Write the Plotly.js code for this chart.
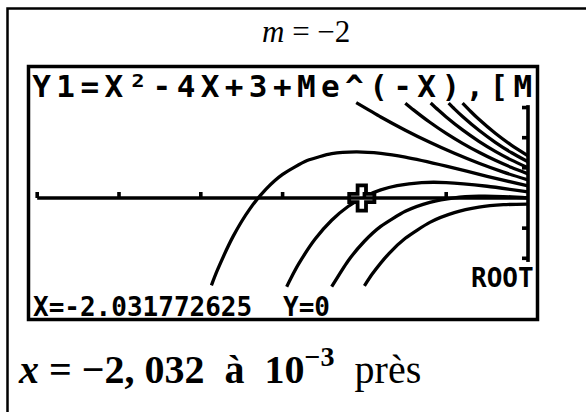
<!DOCTYPE html>
<html>
<head>
<meta charset="utf-8">
<script src="https://cdn.plot.ly/plotly-3.0.1.min.js"></script>
<style>
  html, body { margin: 0; padding: 0; background: #fff; }
  #chart { width: 586px; height: 412px; }
  g.annotation[data-index="1"] text { letter-spacing: 5.4px; }
</style>
</head>
<body>
<div id="chart"></div>
<script>
// ---- Data: Y1 = X^2 - 4X + 3 + M e^(-X), M in {-4..4}
const M_VALUES = [-4, -3, -2, -1, 0, 1, 2, 3, 4];

const xMinus4 = [0, -0.3, -0.6, -0.9, -1.2, -1.5, -1.7, -1.9, -2.0];
const yMinus4 = [-1, -1.11, -1.53, -2.43, -4.04, -6.68, -9.21, -12.53, -14.56];

const xMinus3 = [0, -0.3, -0.6, -0.9, -1.2, -1.5, -1.8, -2.0, -2.2, -2.4];
const yMinus3 = [0, 0.24, 0.29, 0.03, -0.72, -2.20, -4.71, -7.17, -10.44, -14.71];

const xMinus2 = [0, -0.5, -1.0, -1.3, -1.6, -1.8, -2.0, -2.2, -2.4, -2.6, -2.8, -2.9, -2.95];
const yMinus2 = [1, 1.95, 2.56, 2.55, 2.05, 1.34, 0.22, -1.41, -3.69, -6.77, -10.85, -13.34, -14.71];

const xMinus1 = [0, -0.5, -1.0, -1.5, -1.8, -2.1, -2.4, -2.7, -3.0, -3.2, -3.4, -3.6, -3.8, -3.87];
const yMinus1 = [2, 3.60, 5.28, 6.77, 7.39, 7.64, 7.34, 6.21, 3.91, 1.51, -1.80, -6.24, -12.06, -14.48];

const xZero = [0, -0.3, -0.6, -0.9, -1.2, -1.5, -1.8, -2.1];
const yZero = [3, 4.29, 5.76, 7.41, 9.24, 11.25, 13.44, 15.81];

const xPlus1 = [0, -0.2, -0.4, -0.6, -0.8, -1.0, -1.2, -1.4, -1.5];
const yPlus1 = [4, 5.06, 6.25, 7.58, 9.07, 10.72, 12.56, 14.62, 15.73];

const xPlus2 = [0, -0.2, -0.4, -0.6, -0.8, -1.0, -1.1, -1.19];
const yPlus2 = [5, 6.28, 7.74, 9.40, 11.29, 13.44, 14.62, 15.75];

const xPlus3 = [0, -0.2, -0.4, -0.6, -0.8, -0.9, -0.97];
const yPlus3 = [6, 7.50, 9.24, 11.23, 13.52, 14.79, 15.73];

const xPlus4 = [0, -0.2, -0.4, -0.6, -0.7, -0.8];
const yPlus4 = [7, 8.73, 10.73, 13.05, 14.35, 15.74];

// Root found by the calculator
const ROOT_X = [-2.031772625];
const ROOT_Y = [0];

// Axis ticks (Xscl = 1, Yscl = 5)
const X_TICKS = [-6, -5, -4, -3, -2, -1];
const Y_TICKS = [-10, -5, 5, 10, 15];
const X_AXIS_EXTENT = [-6, 0];
const Y_AXIS_EXTENT = [-10.6, 15.4];

// Texts
const TITLE_TEXT = '<i>m</i> = −2';
const FORMULA_TEXT = 'Y1=X²-4X+3+Me^(-X),[M';
const SOLVE_LABEL = 'ROOT';
const X_READOUT = 'X=-2.031772625';
const Y_READOUT = 'Y=0';
const RESULT_TEXT = '<b><i>x</i> = −2,\u00a0032\u00a0\u00a0à\u00a0\u00a010<sup>−3</sup></b>\u00a0\u00a0près';

// ---- Build
const W = 586, H = 412;
const px = v => v / W;
const py = v => 1 - v / H;

const curveX = [xMinus4, xMinus3, xMinus2, xMinus1, xZero, xPlus1, xPlus2, xPlus3, xPlus4];
const curveY = [yMinus4, yMinus3, yMinus2, yMinus1, yZero, yPlus1, yPlus2, yPlus3, yPlus4];

const LW = 3.3;
const traces = curveX.map((xs, i) => ({
  type: 'scatter', mode: 'lines', x: xs, y: curveY[i],
  name: 'M=' + M_VALUES[i],
  line: { color: '#000', width: LW, shape: 'spline', smoothing: 0.6 },
  hoverinfo: 'skip', showlegend: false
}));

traces.push({
  type: 'scatter', mode: 'markers', x: ROOT_X, y: ROOT_Y,
  marker: { symbol: 'cross', size: 21, color: '#fff', line: { color: '#000', width: 3.8 } },
  hoverinfo: 'skip', showlegend: false
});

const shapes = [];
// outer frame
shapes.push({ type: 'rect', xref: 'paper', yref: 'paper', x0: px(7.5), x1: px(600), y0: py(8.5), y1: py(430),
  line: { color: '#000', width: 2.5 }, fillcolor: 'rgba(0,0,0,0)' });
// calculator screen frame
shapes.push({ type: 'rect', xref: 'paper', yref: 'paper', x0: px(28.5), x1: px(537.5), y0: py(66.5), y1: py(319.5),
  line: { color: '#000', width: 3.5 }, fillcolor: 'rgba(0,0,0,0)' });
// axes
shapes.push({ type: 'line', xref: 'x', yref: 'y', x0: X_AXIS_EXTENT[0], x1: X_AXIS_EXTENT[1], y0: 0, y1: 0,
  line: { color: '#000', width: 3.6 } });
shapes.push({ type: 'line', xref: 'x', yref: 'y', x0: 0, x1: 0, y0: Y_AXIS_EXTENT[0], y1: Y_AXIS_EXTENT[1],
  line: { color: '#000', width: 3.6 } });
X_TICKS.forEach(t => shapes.push({ type: 'line', xref: 'x', yref: 'y', ysizemode: 'pixel', yanchor: 0,
  x0: t, x1: t, y0: 0, y1: 6, line: { color: '#000', width: 3.6 } }));
Y_TICKS.forEach(t => shapes.push({ type: 'line', xref: 'x', yref: 'y', xsizemode: 'pixel', xanchor: 0,
  x0: -6, x1: 0, y0: t, y1: t, line: { color: '#000', width: 3.6 } }));

const mono = 'DejaVu Sans Mono, monospace';
const annotations = [
  { text: TITLE_TEXT, xref: 'paper', yref: 'paper', x: px(306), y: py(32), xanchor: 'center', yanchor: 'middle',
    showarrow: false, font: { family: 'Liberation Serif, serif', size: 31, color: '#000' } },
  { text: FORMULA_TEXT, xref: 'paper', yref: 'paper', x: px(285), y: py(86), xanchor: 'center', yanchor: 'middle',
    showarrow: false, font: { family: mono, size: 31, color: '#000', weight: 'bold' } },
  { text: SOLVE_LABEL, xref: 'paper', yref: 'paper', x: px(469), y: py(278), xanchor: 'left', yanchor: 'middle',
    showarrow: false, font: { family: mono, size: 26, color: '#000', weight: 'bold' } },
  { text: X_READOUT, xref: 'paper', yref: 'paper', x: px(31), y: py(307), xanchor: 'left', yanchor: 'middle',
    showarrow: false, font: { family: mono, size: 26, color: '#000', weight: 'bold' } },
  { text: Y_READOUT, xref: 'paper', yref: 'paper', x: px(281), y: py(307), xanchor: 'left', yanchor: 'middle',
    showarrow: false, font: { family: mono, size: 26, color: '#000', weight: 'bold' } },
  { text: RESULT_TEXT, xref: 'paper', yref: 'paper', x: px(16), y: py(366), xanchor: 'left', yanchor: 'middle',
    showarrow: false, font: { family: 'Liberation Serif, serif', size: 40, color: '#000' } }
];

// pixel mapping: x = 0 at 528px, 81.8 px per unit; y = 0 at 198px, 6.03 px per unit
const layout = {
  width: W, height: H,
  margin: { l: 0, r: 0, t: 0, b: 0, pad: 0 },
  paper_bgcolor: '#fff', plot_bgcolor: 'rgba(0,0,0,0)',
  xaxis: { range: [-528 / 81.8, (W - 528) / 81.8], visible: false, fixedrange: true },
  yaxis: { range: [(198 - H) / 6.03, 198 / 6.03], visible: false, fixedrange: true },
  shapes: shapes,
  annotations: annotations,
  showlegend: false
};

Plotly.newPlot('chart', traces, layout, { staticPlot: true, displayModeBar: false });
</script>
</body>
</html>
